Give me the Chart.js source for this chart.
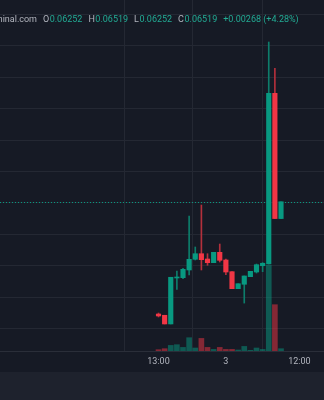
<!DOCTYPE html>
<html>
<head>
<meta charset="utf-8">
<script src="https://cdn.jsdelivr.net/npm/chart.js@4.4.1/dist/chart.umd.min.js"></script>
<style>
  html, body { margin: 0; padding: 0; background: #1e222d; }
  #wrap { width: 324px; height: 372px; background: #161a25; }
</style>
</head>
<body>
<div id="wrap"><canvas id="chart" width="324" height="372"></canvas></div>
<script>
// hourly candles, index 0 = 13:00
const opens  = [0.04734, 0.04714, 0.04576, 0.05307, 0.05312, 0.05434, 0.05604, 0.05693, 0.05609, 0.05550, 0.05715,
                0.05593, 0.05407, 0.05137, 0.05207, 0.05328, 0.05402, 0.05502, 0.05529, 0.08243, 0.06252];
const highs  = [0.04750, 0.04714, 0.05318, 0.05418, 0.05461, 0.06293, 0.05800, 0.06467, 0.05693, 0.05715, 0.05847,
                0.05609, 0.05407, 0.05216, 0.05339, 0.05413, 0.05529, 0.05550, 0.09059, 0.08641, 0.06519];
const lows   = [0.04687, 0.04576, 0.04576, 0.05127, 0.05296, 0.05355, 0.05593, 0.05434, 0.05509, 0.05550, 0.05561,
                0.05359, 0.05137, 0.05137, 0.04908, 0.05328, 0.05386, 0.05407, 0.05529, 0.06252, 0.06252];
const closes = [0.04703, 0.04576, 0.05318, 0.05318, 0.05445, 0.05604, 0.05693, 0.05598, 0.05550, 0.05715, 0.05588,
                0.05402, 0.05137, 0.05216, 0.05339, 0.05413, 0.05518, 0.05541, 0.08243, 0.06252, 0.06519];
// volume, thousands
const volumes = [1.3, 2.3, 5.6, 6.3, 3.6, 13.3, 3, 12.6, 3.6, 1.6, 3.6, 1.6, 1.6, 1, 4.6, 0.7, 3, 1.6, 85.6, 46.3, 2.3];

const tickIdx = [0, 11, 23];
const tickLabels = ['13:00', '3', '12:00'];
const legendLabels = ['O', 'H', 'L', 'C'];
const legendValues = ['0.06252', '0.06519', '0.06252', '0.06519'];
const legendChange = '+0.00268 (+4.28%)';
const source = 'GeckoTerminal.com';

const UP = '#089981', DOWN = '#f23645';
const isUp = opens.map((o, i) => closes[i] >= o);

const wicks = opens.map((o, i) => ({ x: i, y: [lows[i], highs[i]] }));
const bodies = opens.map((o, i) => ({ x: i, y: [o, closes[i]] }));
const vols = volumes.map((v, i) => ({ x: i, y: v }));

// last price dotted line
const priceLine = {
  id: 'priceLine',
  beforeDatasetsDraw(chart) {
    const { ctx, chartArea, scales } = chart;
    const y = Math.round(scales.y.getPixelForValue(closes[closes.length - 1])) + 0.5;
    ctx.save();
    ctx.strokeStyle = UP;
    ctx.lineWidth = 1;
    ctx.setLineDash([1, 2]);
    ctx.beginPath();
    ctx.moveTo(chartArea.left, y);
    ctx.lineTo(chartArea.right, y);
    ctx.stroke();
    ctx.restore();
  }
};

// OHLC legend in the top left
const ohlcLegend = {
  id: 'ohlcLegend',
  afterDraw(chart) {
    const ctx = chart.ctx;
    ctx.save();
    ctx.font = '9px Roboto';
    ctx.textBaseline = 'middle';
    const y = 20;
    ctx.fillStyle = '#b2b5be';
    ctx.textAlign = 'right';
    ctx.fillText(source, 37, y);
    ctx.textAlign = 'left';
    let x = 43;
    legendLabels.forEach((l, i) => {
      ctx.fillStyle = '#b2b5be';
      ctx.fillText(l, x, y);
      x += ctx.measureText(l).width + 0.5;
      ctx.fillStyle = '#22ab94';
      ctx.fillText(legendValues[i], x, y);
      x += ctx.measureText(legendValues[i]).width + 6;
    });
    ctx.fillText(legendChange, x, y);
    ctx.restore();
  }
};

new Chart(document.getElementById('chart'), {
  type: 'bar',
  data: {
    datasets: [
      {
        data: vols,
        yAxisID: 'vol',
        backgroundColor: isUp.map(u => u ? 'rgba(8,153,129,0.5)' : 'rgba(242,54,69,0.5)'),
        barThickness: 5,
        order: 3
      },
      {
        data: wicks,
        backgroundColor: isUp.map(u => u ? '#0d7d6b' : '#b3303c'),
        barThickness: 1,
        order: 2
      },
      {
        data: bodies,
        backgroundColor: isUp.map(u => u ? UP : DOWN),
        barThickness: 4.5,
        minBarLength: 1,
        order: 1
      }
    ]
  },
  options: {
    responsive: false,
    animation: false,
    devicePixelRatio: 1,
    layout: { padding: 0 },
    datasets: { bar: { grouped: false } },
    plugins: { legend: { display: false }, tooltip: { enabled: false } },
    scales: {
      x: {
        type: 'linear',
        min: -25.88,
        max: 27.02,
        offset: false,
        afterBuildTicks: s => { s.ticks = tickIdx.map(v => ({ value: v })); },
        afterFit: s => { s.height = 21; },
        ticks: {
          color: '#b2b5be',
          font: { family: 'Roboto', size: 9 },
          padding: 5,
          maxRotation: 0,
          autoSkip: false,
          callback: v => tickLabels[tickIdx.indexOf(v)]
        },
        grid: { color: '#242833', drawTicks: false },
        border: { color: '#2a2e39' }
      },
      y: {
        position: 'right',
        min: 0.04146,
        max: 0.09727,
        ticks: { display: false, stepSize: 0.005 },
        afterBuildTicks: s => {
          s.ticks = s.ticks.filter(t => Math.abs(t.value / 0.005 - Math.round(t.value / 0.005)) < 1e-6);
        },
        afterFit: s => { s.width = 0; },
        grid: { color: '#242833', drawTicks: false },
        border: { display: false }
      },
      vol: {
        display: false,
        min: 0,
        max: 351
      }
    }
  },
  plugins: [priceLine, ohlcLegend]
});
</script>
</body>
</html>
